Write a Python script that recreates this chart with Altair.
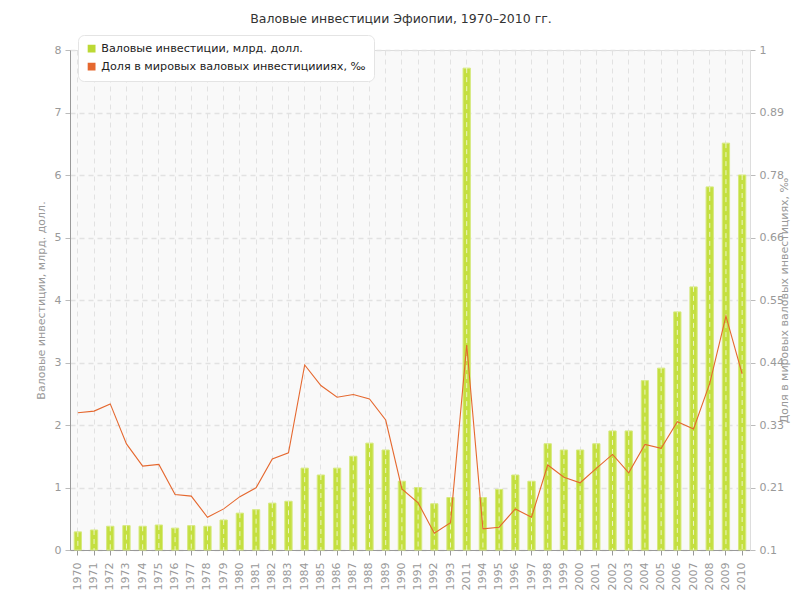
import altair as alt
import pandas as pd

years = ["1970", "1971", "1972", "1973", "1974", "1975", "1976", "1977", "1978", "1979",
         "1980", "1981", "1982", "1983", "1984", "1985", "1986", "1987", "1988", "1989",
         "1990", "1991", "1992", "1993", "2011", "1994", "1995", "1996", "1997", "1998",
         "1999", "2000", "2001", "2002", "2003", "2004", "2005", "2006", "2007", "2008",
         "2009", "2010"]
invest = [0.29, 0.32, 0.38, 0.39, 0.38, 0.40, 0.35, 0.39, 0.38, 0.48,
          0.59, 0.645, 0.75, 0.78, 1.31, 1.20, 1.31, 1.50, 1.71, 1.60,
          1.10, 1.00, 0.74, 0.84, 7.71, 0.84, 0.97, 1.20, 1.10, 1.70,
          1.60, 1.60, 1.70, 1.905, 1.905, 2.71, 2.91, 3.81, 4.21, 5.81,
          6.51, 6.00]
share = [0.347, 0.350, 0.363, 0.291, 0.251, 0.254, 0.200, 0.197, 0.159, 0.174,
         0.196, 0.212, 0.264, 0.275, 0.433, 0.396, 0.375, 0.380, 0.372, 0.334,
         0.210, 0.185, 0.130, 0.149, 0.469, 0.138, 0.141, 0.174, 0.159, 0.253,
         0.231, 0.221, 0.247, 0.272, 0.239, 0.290, 0.283, 0.331, 0.318, 0.400,
         0.521, 0.417]
series_names = ["Валовые инвестиции, млрд. долл.",
                "Доля в мировых валовых инвестициииях, ‰"]
series_colors = ["#bcd935", "#e5682f"]
left_ticks = [0, 1, 2, 3, 4, 5, 6, 7, 8]
right_ticks = [0.1, 0.2125, 0.325, 0.4375, 0.55, 0.6625, 0.775, 0.8875, 1.0]

df = pd.DataFrame({"year": years, "invest": invest, "share": share})
df["s1"] = series_names[0]
df["s2"] = series_names[1]

FONT = "DejaVu Sans"
GRAY = "#999999"

xenc = alt.X("year:N", sort=years, title=None,
             scale=alt.Scale(paddingInner=0.55, paddingOuter=0.26),
             axis=alt.Axis(labelAngle=270, labelAlign="right", labelBaseline="middle",
                           labelPadding=7, tickSize=5, tickColor=GRAY, domainColor=GRAY,
                           labelColor=GRAY, labelFontSize=11, labelFont=FONT,
                           grid=True, gridDash=[5, 4], gridColor="#e2e2e2",
                           bandPosition=0.5, labelOverlap=False))

yleft = alt.Y("invest:Q", scale=alt.Scale(domain=[0, 8]),
              title="Валовые инвестиции, млрд. долл.",
              axis=alt.Axis(orient="left", values=left_ticks,
                            tickSize=5, tickColor="#bbbbbb", domainColor=GRAY,
                            labelColor=GRAY, labelFontSize=11, labelFont=FONT, labelPadding=4,
                            titleColor=GRAY, titleFontSize=11, titleFont=FONT,
                            titleFontWeight="normal", titlePadding=8,
                            grid=True, gridDash=[5, 4], gridColor="#e2e2e2", gridWidth=1.5))

legend = alt.Legend(title=None, orient="none", legendX=8, legendY=-15,
                    symbolType="square", symbolSize=40,
                    fillColor="white", strokeColor="#e4e4e4",
                    cornerRadius=6, padding=8, rowPadding=5,
                    labelFont=FONT, labelFontSize=11.2,
                    labelColor="#222222", labelLimit=400, values=series_names)

bars = alt.Chart(df).mark_bar(stroke="#d6e97f", strokeWidth=1, fill="#c4df40").encode(
    x=xenc,
    y=yleft,
    color=alt.Color("s1:N", scale=alt.Scale(domain=series_names, range=series_colors),
                    legend=legend),
)

stripes = alt.Chart(df).mark_rule(color="white", strokeDash=[5, 4], opacity=0.7).encode(
    x=alt.X("year:N", sort=years),
    y=yleft,
    y2=alt.datum(0),
)

line = alt.Chart(df).mark_line(strokeWidth=1.1).encode(
    x=alt.X("year:N", sort=years),
    y=alt.Y("share:Q", scale=alt.Scale(domain=[0.1, 1.0], zero=False, nice=False),
            title="Доля в мировых валовых инвестициях, ‰",
            axis=alt.Axis(orient="right", values=right_ticks,
                          labelExpr="format(datum.value, '.2~f')",
                          tickSize=5, tickColor="#bbbbbb", domainColor="#dddddd",
                          labelColor=GRAY, labelFontSize=11, labelFont=FONT, labelPadding=4,
                          titleColor=GRAY, titleFontSize=11, titleFont=FONT,
                          titleFontWeight="normal", titleAngle=270, titlePadding=6,
                          grid=False)),
    color=alt.Color("s2:N", scale=alt.Scale(domain=series_names, range=series_colors)),
)

chart = alt.layer(alt.layer(bars, stripes), line).resolve_scale(y="independent").properties(
    width=680, height=500,
    autosize=alt.AutoSizeParams(type="none"),
    padding={"left": 62, "top": 42, "right": 42, "bottom": 42},
    title=alt.TitleParams("Валовые инвестиции Эфиопии, 1970–2010 гг.", font=FONT,
                          fontSize=12.5, fontWeight="normal", color="#333333",
                          anchor="middle", dx=-9, offset=9),
).configure_view(fill="#f9f9f9", stroke="#dddddd")

chart.save("out.html", embed_options={"renderer": "svg", "actions": False})
